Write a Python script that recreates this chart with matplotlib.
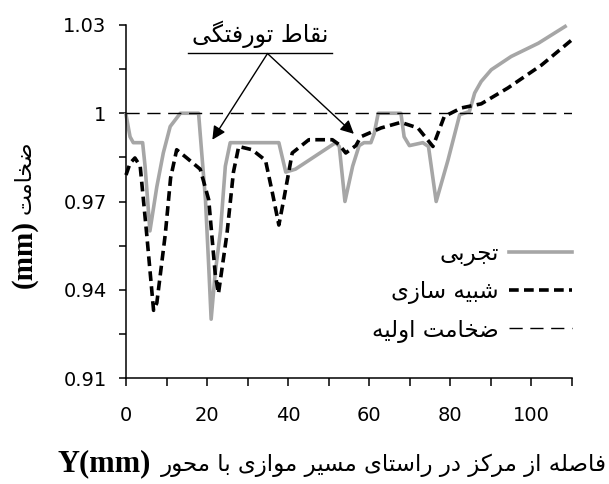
import matplotlib
matplotlib.use('Agg')
import matplotlib.pyplot as plt

plt.rcParams['lines.scale_dashes'] = False

# experimental thickness (gray)
x_exp = [0, 1.0, 1.8, 4.1, 4.7, 5.9, 7.6, 9.2, 10.9, 13.4, 17.5, 17.9, 18.3, 19.6, 20.4,
         21.0, 22.0, 23.3, 24.5, 25.7, 29.9, 37.7, 39.4, 41.8, 51.7, 52.6, 54.0, 55.9,
         57.5, 58.7, 60.4, 61.2, 62.2, 67.8, 68.6, 69.9, 73.2, 74.6, 76.5, 79.4, 82.3,
         84.7, 86.0, 87.6, 90.1, 95.0, 101.7, 108.3]
y_exp = [0.9995, 0.992, 0.990, 0.990, 0.982, 0.960, 0.975, 0.9865, 0.9955, 1.0, 1.0, 1.0,
         0.993, 0.9706, 0.948, 0.930, 0.9457, 0.960, 0.982, 0.990, 0.990, 0.990, 0.980,
         0.981, 0.990, 0.9887, 0.970, 0.982, 0.989, 0.990, 0.990, 0.993, 1.0, 1.0, 0.992,
         0.989, 0.990, 0.9887, 0.970, 0.984, 0.9995, 1.0006, 1.0069, 1.0108, 1.0148,
         1.0193, 1.0238, 1.0295]

# simulation thickness (black dashed)
x_sim = [0.0, 1.0, 2.2, 3.5, 5.1, 6.8, 7.6, 9.7, 11.0, 12.5, 15.0, 18.3, 20.4, 22.0, 22.8,
         24.9, 26.5, 27.8, 31.1, 34.4, 36.1, 37.7, 38.9, 41.0, 45.1, 50.9, 52.6, 54.2,
         56.7, 57.9, 62.9, 67.8, 72.0, 75.7, 78.5, 82.7, 87.6, 94.2, 102.5, 110.0]
y_sim = [0.979, 0.983, 0.9848, 0.982, 0.959, 0.933, 0.9355, 0.959, 0.978, 0.9876, 0.9848,
         0.981, 0.9706, 0.9455, 0.9387, 0.959, 0.980, 0.9887, 0.9876, 0.984, 0.973, 0.962,
         0.9706, 0.9865, 0.991, 0.991, 0.9893, 0.9865, 0.989, 0.992, 0.995, 0.9969, 0.995,
         0.9887, 0.9989, 1.0018, 1.0032, 1.0086, 1.0164, 1.025]

# initial thickness
x_init = [0, 110]
y_init = [1.0, 1.0]

lbl_exp = 'تجربی'
lbl_sim = 'شبیه سازی'
lbl_init = 'ضخامت اولیه'
note = 'نقاط تورفتگی'
xlabel_fa = 'فاصله از مرکز در راستای مسیر موازی با محور'
xlabel_en = 'Y(mm)'
ylabel_fa = 'ضخامت'
ylabel_en = '(mm)'

xticks = [0, 20, 40, 60, 80, 100]
yticks = [0.91, 0.94, 0.97, 1.0, 1.03]
ytick_labels = ['0.91', '0.94', '0.97', '1', '1.03']


# tiny persian shaper: matplotlib has no complex text layout
FORMS = {
    'ا': ('\uFE8D', '\uFE8E'), 'د': ('\uFEA9', '\uFEAA'), 'ر': ('\uFEAD', '\uFEAE'),
    'ز': ('\uFEAF', '\uFEB0'), 'و': ('\uFEED', '\uFEEE'),
    'ب': ('\uFE8F', '\uFE90', '\uFE91', '\uFE92'), 'ت': ('\uFE95', '\uFE96', '\uFE97', '\uFE98'),
    'ج': ('\uFE9D', '\uFE9E', '\uFE9F', '\uFEA0'), 'ح': ('\uFEA1', '\uFEA2', '\uFEA3', '\uFEA4'),
    'خ': ('\uFEA5', '\uFEA6', '\uFEA7', '\uFEA8'), 'س': ('\uFEB1', '\uFEB2', '\uFEB3', '\uFEB4'),
    'ش': ('\uFEB5', '\uFEB6', '\uFEB7', '\uFEB8'), 'ص': ('\uFEB9', '\uFEBA', '\uFEBB', '\uFEBC'),
    'ض': ('\uFEBD', '\uFEBE', '\uFEBF', '\uFEC0'), 'ط': ('\uFEC1', '\uFEC2', '\uFEC3', '\uFEC4'),
    'ف': ('\uFED1', '\uFED2', '\uFED3', '\uFED4'), 'ق': ('\uFED5', '\uFED6', '\uFED7', '\uFED8'),
    'ک': ('\uFB8E', '\uFB8F', '\uFB90', '\uFB91'), 'گ': ('\uFB92', '\uFB93', '\uFB94', '\uFB95'),
    'ل': ('\uFEDD', '\uFEDE', '\uFEDF', '\uFEE0'), 'م': ('\uFEE1', '\uFEE2', '\uFEE3', '\uFEE4'),
    'ن': ('\uFEE5', '\uFEE6', '\uFEE7', '\uFEE8'), 'ه': ('\uFEE9', '\uFEEA', '\uFEEB', '\uFEEC'),
    'ی': ('\uFBFC', '\uFBFD', '\uFBFE', '\uFBFF'),
}


def fa(text):
    out = []
    for i, c in enumerate(text):
        if c not in FORMS:
            out.append(c)
            continue
        prev = text[i - 1] if i > 0 else ''
        nxt = text[i + 1] if i + 1 < len(text) else ''
        f = FORMS[c]
        jp = prev in FORMS and len(FORMS[prev]) == 4
        jn = nxt in FORMS and len(f) == 4
        if jp and jn:
            out.append(f[3])
        elif jp:
            out.append(f[1])
        elif jn:
            out.append(f[2])
        else:
            out.append(f[0])
    return ''.join(reversed(out))


fig = plt.figure(figsize=(6.09, 4.84), dpi=100)
ax = fig.add_axes([126 / 609, 1 - 378 / 484, 446 / 609, 353 / 484])

ax.plot(x_exp, y_exp, color='#a6a6a6', lw=2.6, label=fa(lbl_exp), clip_on=False,
        solid_joinstyle='round')
ax.plot(x_sim, y_sim, color='black', lw=2.6, dashes=(7, 3.8), label=fa(lbl_sim),
        clip_on=False)
ax.plot(x_init, y_init, color='black', lw=1.0, dashes=(9.5, 5.5), label=fa(lbl_init))

ax.set_xlim(0, 110)
ax.set_ylim(0.91, 1.03)
ax.set_xticks(xticks)
ax.set_xticks(range(10, 111, 20), minor=True)
ax.set_yticks(yticks)
ax.set_yticklabels(ytick_labels)
ax.set_yticks([0.925, 0.955, 0.985, 1.015], minor=True)
for s in ['top', 'right']:
    ax.spines[s].set_visible(False)
for s in ['left', 'bottom']:
    ax.spines[s].set_linewidth(1.1)
ax.tick_params(axis='both', which='both', direction='out', width=1.1, labelsize=14,
               colors='black')
ax.tick_params(axis='x', which='both', length=6, pad=14)
ax.tick_params(axis='y', which='both', length=5, pad=9)

leg = ax.legend(loc='upper right', bbox_to_anchor=(1.0, 0.385), frameon=False,
                markerfirst=False, fontsize=16.5, handlelength=2.75, handletextpad=0.45,
                borderaxespad=0, borderpad=0, labelspacing=0.62)

# annotation: indentation points
ax.text(33.2, 1.0267, fa(note), ha='center', va='center', fontsize=17)
ax.plot([15.3, 50.9], [1.0206, 1.0206], color='black', lw=1.0, clip_on=False)
for tip in [(21.3, 0.991), (56.2, 0.993)]:
    ax.annotate('', xy=tip, xytext=(34.9, 1.0203),
                arrowprops=dict(arrowstyle='-|>', color='black', lw=1.0,
                                mutation_scale=20, shrinkA=0, shrinkB=0))

# axis labels (persian + latin pieces)
fig.text(151 / 609, 1 - 464 / 484, xlabel_en, ha='right', va='center',
         family='Liberation Serif', weight='bold', fontsize=22)
fig.text(161 / 609, 1 - 465 / 484, fa(xlabel_fa), ha='left', va='center', fontsize=16.5)
fig.text(24 / 609, 1 - 254 / 484, ylabel_en, rotation=90, ha='center', va='center',
         family='Liberation Serif', weight='bold', fontsize=21)
fig.text(25 / 609, 1 - 177 / 484, fa(ylabel_fa), rotation=90, ha='center', va='center',
         fontsize=16)

fig.savefig('out.png', dpi=100)
